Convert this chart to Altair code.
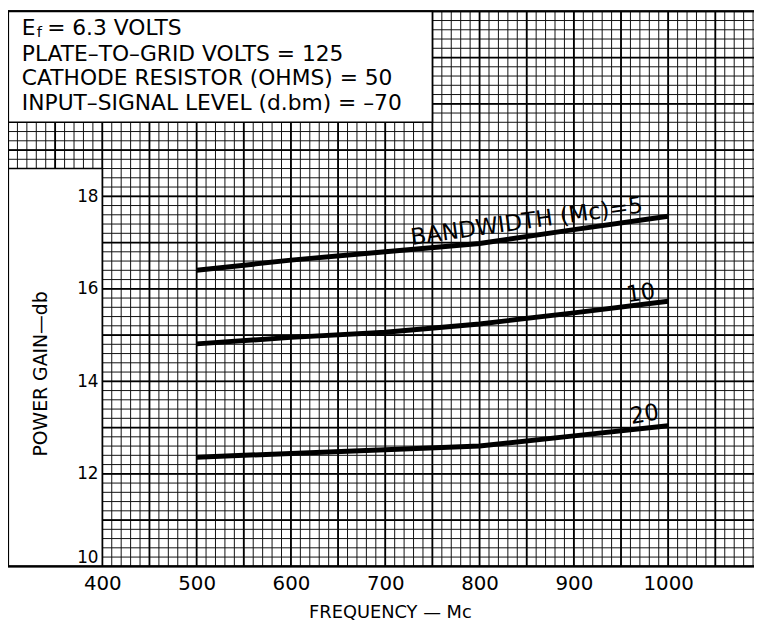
import altair as alt
import pandas as pd

# ---- data ----
freq = [500, 600, 700, 800, 900, 1000]
gain_bw5 = [16.40, 16.62, 16.80, 16.98, 17.28, 17.57]
gain_bw10 = [14.81, 14.95, 15.06, 15.24, 15.48, 15.73]
gain_bw20 = [12.36, 12.44, 12.52, 12.60, 12.82, 13.04]
bandwidths = ["5", "10", "20"]

x_ticks = [400, 500, 600, 700, 800, 900, 1000]
y_ticks = [10, 12, 14, 16, 18]

curve_label_text = ["BANDWIDTH (Mc)=5", "10", "20"]
curve_label_x = [850, 971, 975]
curve_label_y = [17.45, 15.90, 13.28]
curve_label_angle = [352, 352, 350]

info_text = ["PLATE\u2013TO\u2013GRID VOLTS = 125",
             "CATHODE RESISTOR (OHMS) = 50",
             "INPUT\u2013SIGNAL LEVEL (d.bm) = \u201370"]
info_y = [20.93, 20.40, 19.86]

XMIN, XMAX = 300, 1091
YMIN, YMAX = 10, 22
FONT = "DejaVu Sans"

# graph-paper rulings
minor_x = list(range(300, 1091, 10))
major_x = list(range(300, 1091, 50))
minor_y = [round(10 + 0.2 * i, 1) for i in range(61)]
major_y = list(range(10, 23))

xscale = alt.Scale(domain=[XMIN, XMAX], nice=False, zero=False)
yscale = alt.Scale(domain=[YMIN, YMAX], nice=False, zero=False)

xaxis = alt.Axis(values=x_ticks, format="d", grid=False, domain=False, ticks=False,
                 labelFont=FONT, labelFontSize=20, labelColor="black",
                 labelPadding=7, title="FREQUENCY \u2014 Mc", titleFont=FONT,
                 titleFontSize=18, titleFontWeight="normal", titleColor="black",
                 titleX=386, titleY=47, titleBaseline="middle", zindex=3)
yaxis = alt.Axis(values=y_ticks, grid=False, domain=False, ticks=False,
                 orient="left", offset=-95,
                 labelFont=FONT, labelFontSize=17, labelColor="black",
                 labelPadding=4,
                 labelBaseline={"condition": {"test": "datum.value == 10",
                                              "value": "bottom"},
                                "value": "middle"},
                 title="POWER GAIN\u2014db", titleFont=FONT,
                 titleFontSize=19, titleFontWeight="normal", titleColor="black",
                 titleAngle=270, titleX=-62, titleY=366, titleBaseline="middle",
                 zindex=3)


def X(field):
    return alt.X(field, type="quantitative", scale=xscale, axis=xaxis)


def Y(field):
    return alt.Y(field, type="quantitative", scale=yscale, axis=yaxis)


vminor = alt.Chart(pd.DataFrame({"x": minor_x})).mark_rule(
    color="#111111", strokeWidth=1.0).encode(x=X("x"))
hminor = alt.Chart(pd.DataFrame({"y": minor_y})).mark_rule(
    color="#111111", strokeWidth=1.0).encode(y=Y("y"))
vmajor = alt.Chart(pd.DataFrame({"x": major_x})).mark_rule(
    color="black", strokeWidth=1.8).encode(x=X("x"))
hmajor = alt.Chart(pd.DataFrame({"y": major_y})).mark_rule(
    color="black", strokeWidth=1.8).encode(y=Y("y"))

panels = pd.DataFrame({
    "x": [300, 300], "x2": [400, 750],
    "y": [10, 19.6], "y2": [18.6, 22],
})
white = alt.Chart(panels).mark_rect(fill="white", stroke="black",
                                    strokeWidth=1.6).encode(
    x=X("x"), x2="x2", y=Y("y"), y2="y2")

frame_v = alt.Chart(pd.DataFrame({"x": [300]})).mark_rule(
    color="black", strokeWidth=2.2).encode(x=X("x"))
frame_h = alt.Chart(pd.DataFrame({"y": [10, 22]})).mark_rule(
    color="black", strokeWidth=2.2).encode(y=Y("y"))

rows = []
for bw, gains in zip(bandwidths, [gain_bw5, gain_bw10, gain_bw20]):
    for f, g in zip(freq, gains):
        rows.append({"freq": f, "gain": g, "bw": bw})
curves_df = pd.DataFrame(rows)
curves = alt.Chart(curves_df).mark_line(color="black", strokeWidth=5,
                                        strokeCap="butt").encode(
    x=X("freq"), y=Y("gain"), detail="bw:N")

labels_df = pd.DataFrame({"t": curve_label_text, "x": curve_label_x,
                          "y": curve_label_y, "a": curve_label_angle})
curve_labels = alt.Chart(labels_df).mark_text(
    font=FONT, fontSize=23, color="black", baseline="middle", align="center").encode(
    x=X("x"), y=Y("y"), text="t:N", angle=alt.Angle("a:Q", scale=None))

info_df = pd.DataFrame({"t": info_text, "x": [314.7] * 3, "y": info_y})
info = alt.Chart(info_df).mark_text(
    font=FONT, fontSize=22, color="black", baseline="alphabetic", align="left").encode(
    x=X("x"), y=Y("y"), text="t:N")

ef_df = pd.DataFrame({"t": ["E", "f", "= 6.3 VOLTS"],
                      "x": [314.7, 330.5, 341.5],
                      "y": [21.49, 21.44, 21.49],
                      "s": [22, 15, 22]})
ef = alt.Chart(ef_df).mark_text(
    font=FONT, color="black", baseline="alphabetic", align="left").encode(
    x=X("x"), y=Y("y"), text="t:N", size=alt.Size("s:Q", scale=None))

chart = alt.layer(vminor, hminor, vmajor, hmajor, white, frame_v, frame_h,
                  curves, curve_labels, info, ef).properties(
    width=754, height=561,
    autosize=alt.AutoSizeParams(type="none"),
    padding={"left": 0, "top": 0, "right": 0, "bottom": 57},
    background="white",
).configure_view(stroke=None)

chart.save("out.html", embed_options={"renderer": "svg", "actions": False})
